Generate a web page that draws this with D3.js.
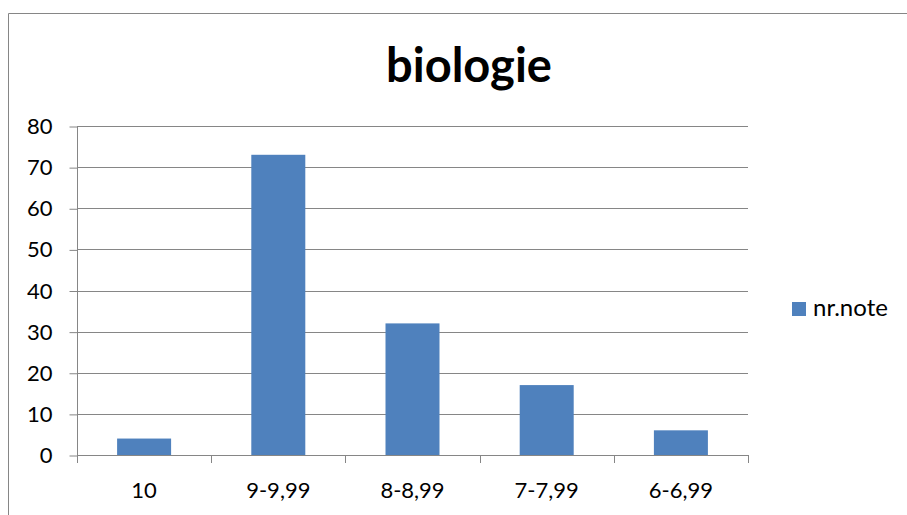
<!DOCTYPE html>
<html><head><meta charset="utf-8">
<script src="https://cdn.jsdelivr.net/npm/d3@7"></script>
<style>html,body{margin:0;background:#fff;overflow:hidden;}svg{display:block;}</style>
</head><body>
<svg id="c" width="907" height="515"></svg>
<script>
const categories = ["10", "9-9,99", "8-8,99", "7-7,99", "6-6,99"];
const values = [4, 73, 32, 17, 6];
const yTicks = [0, 10, 20, 30, 40, 50, 60, 70, 80];
const seriesName = "nr.note";
const title = "biologie";

(function () {
const svg = d3.select("#c");
const font = "Lato, 'Open Sans', sans-serif";
const grey = "#868686";
const barColor = "#4F81BD";

// chart-area border (only top and left edges visible in frame)
svg.append("path").attr("d", "M8.5,515V13.5H907")
  .attr("fill", "none").attr("stroke", grey).attr("stroke-width", 1);

const pLeft = 77, pRight = 748, pTop = 126, pBottom = 455;
const xb = d3.scaleBand().domain(categories).range([pLeft, pRight]);
const y = d3.scaleLinear().domain([0, 80]).range([pBottom, pTop]);

// gridlines
svg.append("g").selectAll("line").data(yTicks.filter(d => d > 0)).join("line")
  .attr("x1", pLeft).attr("x2", pRight)
  .attr("y1", d => Math.round(y(d)) + 0.5).attr("y2", d => Math.round(y(d)) + 0.5)
  .attr("stroke", grey).attr("stroke-width", 1);

// bars
svg.append("g").selectAll("rect").data(values).join("rect")
  .attr("x", (d, i) => xb(categories[i]) + xb.bandwidth() / 2 - 27)
  .attr("width", 54)
  .attr("y", d => y(d))
  .attr("height", d => pBottom - y(d))
  .attr("fill", barColor);

// y axis
const yAxis = d3.axisLeft(y).tickValues(yTicks).tickSize(8).tickPadding(17);
const gy = svg.append("g").attr("transform", `translate(${pLeft + 0.5},0.5)`).call(yAxis);
gy.select(".domain").attr("stroke", grey).attr("d", `M0,${pTop}V${pBottom}`);
gy.selectAll(".tick line").attr("stroke", grey);
gy.selectAll("text").attr("font-family", font).attr("font-size", 22).attr("fill", "#000");

// x axis
const xAxis = d3.axisBottom(xb).tickSize(0).tickPadding(27);
const gx = svg.append("g").attr("transform", `translate(0,${pBottom + 0.5})`).call(xAxis);
gx.select(".domain").attr("stroke", grey).attr("d", `M${pLeft + 0.5},0H${pRight + 0.5}`);
gx.selectAll("text").attr("font-family", font).attr("font-size", 22).attr("fill", "#000");
svg.append("g").selectAll("line").data(d3.range(categories.length + 1)).join("line")
  .attr("x1", i => Math.round(pLeft + i * xb.step()) + 0.5)
  .attr("x2", i => Math.round(pLeft + i * xb.step()) + 0.5)
  .attr("y1", pBottom).attr("y2", pBottom + 8)
  .attr("stroke", grey);

// title
svg.append("text").attr("x", 469).attr("y", 82).attr("text-anchor", "middle")
  .attr("font-family", font).attr("font-weight", "bold").attr("font-size", 47)
  .text(title);

// legend
svg.append("rect").attr("x", 792).attr("y", 302).attr("width", 14).attr("height", 14).attr("fill", barColor);
svg.append("text").attr("x", 813).attr("y", 316).attr("font-family", font).attr("font-size", 24).text(seriesName);
})();
</script>
</body></html>
